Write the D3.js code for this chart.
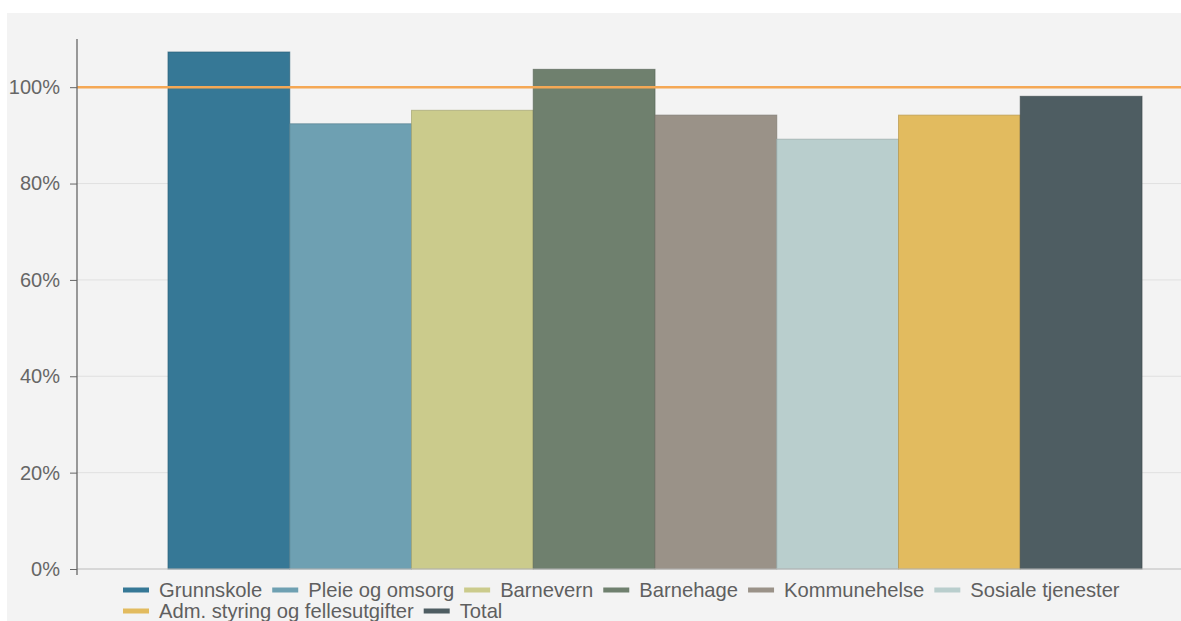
<!DOCTYPE html>
<html>
<head>
<meta charset="utf-8">
<script src="https://cdn.jsdelivr.net/npm/d3@7"></script>
<style>
  html, body { margin: 0; padding: 0; background: #fff; }
  svg { display: block; font-family: "Liberation Sans", Arial, sans-serif; }
</style>
</head>
<body>
<div id="chart"></div>
<script>
var categories = ["Grunnskole", "Pleie og omsorg", "Barnevern", "Barnehage",
                  "Kommunehelse", "Sosiale tjenester", "Adm. styring og fellesutgifter", "Total"];
var values = [107.3, 92.4, 95.2, 103.7, 94.2, 89.2, 94.2, 98.1];
var colors = ["#367896", "#6ea0b2", "#cbcb8c", "#6f806e", "#9a9288", "#b9cecd", "#e2bb5f", "#4e5d62"];
var yTicks = [0, 20, 40, 60, 80, 100];
var reference = 100;

var width = 1181, height = 621;

var svg = d3.select("#chart")
  .append("svg")
    .attr("width", width)
    .attr("height", height);

// panel background
svg.append("rect")
  .attr("x", 7).attr("y", 13)
  .attr("width", width - 7).attr("height", height - 13)
  .attr("fill", "#f3f3f3");

var y = d3.scaleLinear()
  .domain([0, 110])
  .range([569, 39]);

var x = d3.scaleBand()
  .domain(categories)
  .range([168, 1142])
  .padding(0);

var color = d3.scaleOrdinal()
  .domain(categories)
  .range(colors);

// grid
svg.append("g")
  .selectAll("line")
  .data(yTicks.filter(function(d){ return d > 0; }))
  .enter()
  .append("line")
    .attr("x1", 77).attr("x2", width)
    .attr("y1", function(d){ return y(d); })
    .attr("y2", function(d){ return y(d); })
    .attr("stroke", "#e0e0e0")
    .attr("stroke-width", 1);

// bars
svg.append("g")
  .selectAll("rect")
  .data(categories)
  .enter()
  .append("rect")
    .attr("x", function(d){ return x(d); })
    .attr("y", function(d, i){ return y(values[i]); })
    .attr("width", x.bandwidth())
    .attr("height", function(d, i){ return y(0) - y(values[i]); })
    .attr("fill", function(d){ return color(d); })
    .attr("stroke", function(d){ return d3.color(color(d)).darker(0.6); })
    .attr("stroke-opacity", 0.7)
    .attr("stroke-width", 1);

// reference line
svg.append("line")
  .attr("x1", 77).attr("x2", width)
  .attr("y1", y(reference)).attr("y2", y(reference))
  .attr("stroke", "#f5a855")
  .attr("stroke-width", 2.5);

// x axis baseline
svg.append("line")
  .attr("x1", 77).attr("x2", width)
  .attr("y1", y(0)).attr("y2", y(0))
  .attr("stroke", "#bbb")
  .attr("stroke-width", 1);

// y axis
var yAxis = svg.append("g")
  .attr("transform", "translate(77,0)")
  .call(d3.axisLeft(y).tickValues(yTicks).tickSize(7).tickPadding(10)
        .tickFormat(function(d){ return d + "%"; }));

yAxis.select(".domain").remove();
yAxis.append("line")
  .attr("x1", 0).attr("x2", 0)
  .attr("y1", 39).attr("y2", y(0) + 6)
  .attr("stroke", "#666")
  .attr("stroke-width", 1.3);
yAxis.selectAll(".tick line").attr("stroke", "#666");
yAxis.selectAll(".tick text")
  .attr("fill", "#666")
  .style("font-size", "20px")
  .style("font-family", "'Liberation Sans', Arial, sans-serif");

// legend
var legend = svg.append("g");
var lx = 123, ly = 590, maxX = 1140;
categories.forEach(function(c, i) {
  var item = legend.append("g");
  item.append("rect")
    .attr("x", 0).attr("y", -2.5)
    .attr("width", 26).attr("height", 5)
    .attr("fill", colors[i]);
  var t = item.append("text")
    .attr("x", 36).attr("y", 0)
    .attr("dy", "0.35em")
    .attr("fill", "#5f5f5f")
    .style("font-size", "20.2px")
    .text(c);
  var w = 36 + t.node().getComputedTextLength();
  if (lx + w > maxX) { lx = 123; ly += 21; }
  item.attr("transform", "translate(" + lx + "," + ly + ")");
  lx += w + 10;
});
</script>
</body>
</html>
